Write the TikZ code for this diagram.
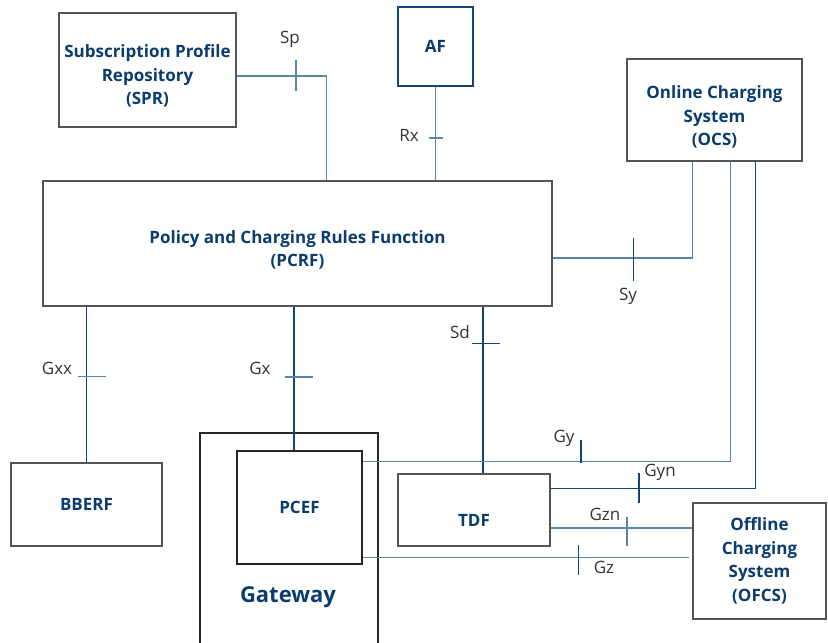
\documentclass[tikz,border=0pt]{standalone}
\usepackage{fontspec}
\setmainfont{Open Sans}
\usetikzlibrary{calc}
\definecolor{boxgray}{RGB}{85,85,85}
\definecolor{nodeblue}{RGB}{10,60,110}
\definecolor{linedark}{RGB}{18,68,120}
\definecolor{linelight}{RGB}{92,134,168}
\newcommand{\padtop}[1]{\rule{0pt}{#1}}
\tikzset{
  entity/.style={
    draw=boxgray, rectangle, line width=1.4pt, inner sep=2pt,
    align=center, text=nodeblue, font=\bfseries\fontsize{17}{23.5}\selectfont
  },
  iface/.style={line width=1.4pt, draw=linedark},
  ifacelight/.style={line width=1.4pt, draw=linelight},
  reflabel/.style={font=\fontsize{17}{20}\selectfont, text=black!80, inner sep=0pt}
}
\begin{document}
\begin{tikzpicture}[x=1pt, y=-1pt]
  \useasboundingbox (0,0) rectangle (828,643);

  % network entities
  \node[entity, minimum width=177, minimum height=114] (spr) at (147.5,70) {\padtop{25pt}Subscription Profile\\Repository\\(SPR)};
  \node[entity, draw=linedark, minimum width=75, minimum height=79] (af) at (435.5,46.5) {AF};
  \node[entity, minimum width=175, minimum height=102] (ocs) at (714.5,110) {\padtop{27pt}Online Charging\\System\\(OCS)};
  \node[entity, minimum width=509, minimum height=125] (pcrf) at (297.5,243.5) {\padtop{26pt}Policy and Charging Rules Function\\(PCRF)};
  \node[entity, minimum width=151, minimum height=83] (bberf) at (86.5,504.5) {BBERF};
  \node[entity, draw=black!85, minimum width=125, minimum height=113] (pcef) at (299.5,507.5) {PCEF};
  \node[entity, minimum width=152, minimum height=72] (tdf) at (474,510) {\padtop{32pt}TDF};
  \node[entity, minimum width=133, minimum height=116] (ofcs) at (759.5,561) {Offline\\Charging\\System\\(OFCS)};

  % gateway (open at the bottom)
  \draw[line width=1.4pt, black!85] (200,650) |- (378,433) -- (378,650);
  \node[entity, draw=none, font=\bfseries\fontsize{22}{26}\selectfont] (gateway) at (288,597) {Gateway};

  % reference points
  \coordinate (sp) at ($(spr.east)+(0,6)$);
  \draw[ifacelight] (sp) -| coordinate[pos=0.33] (sptick) ($(pcrf.north west)+(284,0)$);
  \draw[ifacelight] (sptick)+(0,-16) -- +(0,15);
  \node[reflabel] at (290,39) {Sp};

  \draw[ifacelight] (af.south) -- coordinate[pos=0.55] (rxtick) (af.south |- pcrf.north);
  \draw[ifacelight] (rxtick)+(-7,0) -- +(7,0);
  \node[reflabel] at (409,135) {Rx};

  \coordinate (sy) at ($(pcrf.east)+(0,14.5)$);
  \draw[ifacelight] (sy) -| coordinate[pos=0.29] (sytick) ($(ocs.south west)+(66,0)$);
  \draw[linedark, line width=1.4pt] (sytick)+(0,-20) -- +(0,23);
  \node[reflabel] at (628,296) {Sy};

  \draw[iface] (bberf.north |- pcrf.south) -- coordinate[pos=0.45] (gxxtick) (bberf.north);
  \draw[ifacelight] (gxxtick)+(-9,0) -- +(19,0);
  \node[reflabel] at (57,368) {Gxx};

  \coordinate (gxend) at ($(pcef.north)+(-5.5,0)$);
  \draw[iface] (gxend |- pcrf.south) -- coordinate[pos=0.49] (gxtick) (gxend);
  \draw[ifacelight] (gxtick)+(-9,0) -- +(19,0);
  \node[reflabel] at (260,368) {Gx};

  \coordinate (sdend) at ($(tdf.north)+(9,0)$);
  \draw[iface] (sdend |- pcrf.south) -- coordinate[pos=0.22] (sdtick) (sdend);
  \draw[iface] (sdtick)+(-11,0) -- +(17,0);
  \node[reflabel] at (460,332) {Sd};

  \coordinate (gy) at ($(pcef.north east)+(0,11)$);
  \draw[ifacelight] (gy) -| coordinate[pos=0.297] (gytick) ($(ocs.south west)+(104,0)$);
  \draw[iface] (gytick)+(0,-21) -- +(0,2);
  \node[reflabel] at (564,438) {Gy};

  \coordinate (gyn) at ($(tdf.north east)+(0,15)$);
  \draw[iface] (gyn) -| coordinate[pos=0.216] (gyntick) ($(ocs.south west)+(129,0)$);
  \draw[iface] (gyntick)+(0,-15) -- +(0,15);
  \node[reflabel] at (660,472) {Gyn};

  \coordinate (gzn) at ($(tdf.east)+(0,18)$);
  \draw[ifacelight] (gzn) -- coordinate[pos=0.54] (gzntick) (gzn -| ofcs.west);
  \draw[ifacelight] (gzntick)+(0,-11) -- +(0,18);
  \node[reflabel] at (605,514) {Gzn};

  \coordinate (gz) at ($(pcef.south east)+(0,-7)$);
  \draw[ifacelight] (gz) -- coordinate[pos=0.66] (gztick) ($(gz -| ofcs.west)+(-3,0)$);
  \draw[iface] (gztick)+(0,-13) -- +(0,17);
  \node[reflabel] at (604,567) {Gz};
\end{tikzpicture}
\end{document}
